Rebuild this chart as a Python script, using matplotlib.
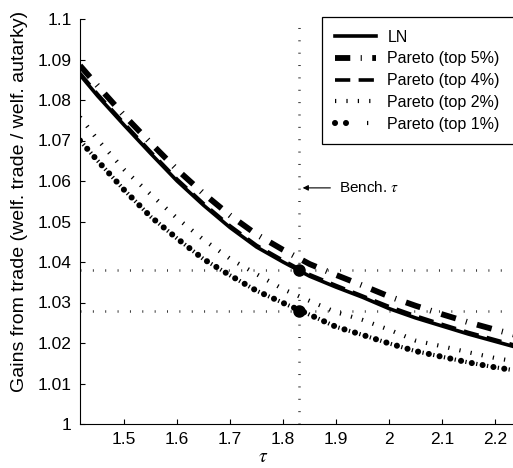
"""
Gains from trade vs tau, LN and Pareto variants
"""
import matplotlib
matplotlib.use('Agg')
import matplotlib.pyplot as plt
from matplotlib.legend_handler import HandlerTuple
from matplotlib.ticker import FormatStrFormatter

plt.rcParams['font.family'] = ['Liberation Sans', 'DejaVu Sans']
plt.rcParams['mathtext.fontset'] = 'stix'
plt.rcParams['lines.scale_dashes'] = False

# values
tau = [1.4167, 1.45, 1.5, 1.55, 1.6, 1.65, 1.7, 1.75, 1.8, 1.85,
       1.9, 1.95, 2.0, 2.05, 2.1, 2.15, 2.2, 2.25]
gains_ln = [1.0862, 1.0810, 1.0738, 1.0668, 1.0600, 1.0540, 1.0485, 1.0437, 1.0400, 1.0365,
            1.0338, 1.0313, 1.0285, 1.0262, 1.0242, 1.0222, 1.0204, 1.0186]
gains_top5 = [1.0885, 1.0835, 1.0762, 1.0694, 1.0628, 1.0569, 1.0515, 1.0468, 1.0430, 1.0395,
              1.0368, 1.0342, 1.0315, 1.0292, 1.0271, 1.0251, 1.0233, 1.0216]
gains_top4 = [1.0866, 1.0814, 1.0742, 1.0672, 1.0604, 1.0544, 1.0489, 1.0441, 1.0404, 1.0369,
              1.0342, 1.0316, 1.0290, 1.0267, 1.0246, 1.0226, 1.0208, 1.0190]
gains_top2 = [1.0758, 1.0702, 1.0628, 1.0567, 1.0508, 1.0455, 1.0408, 1.0370, 1.0333, 1.0304,
              1.0276, 1.0257, 1.0233, 1.0206, 1.0192, 1.0177, 1.0163, 1.0152]
gains_top1 = [1.0700, 1.0650, 1.0578, 1.0512, 1.0458, 1.0407, 1.0367, 1.0329, 1.0299, 1.0270,
              1.0240, 1.0220, 1.0199, 1.0180, 1.0166, 1.0152, 1.0140, 1.0130]

bench_tau = 1.83
bench_gains = [1.038, 1.028]

x_ticks = [1.5, 1.6, 1.7, 1.8, 1.9, 2.0, 2.1, 2.2]
y_ticks = [1.0, 1.01, 1.02, 1.03, 1.04, 1.05, 1.06, 1.07, 1.08, 1.09, 1.1]

fig = plt.figure(figsize=(5.13, 4.68), dpi=100)
ax = fig.add_axes([80 / 513, 44 / 468, 433 / 513, 405 / 468])

# benchmark reference lines
ref_style = dict(color='#333333', lw=1.8, linestyle=(0, (0.7, 8.2)))
ax.axvline(bench_tau, **ref_style)
for g in bench_gains:
    ax.axhline(g, **ref_style)

ln_line, = ax.plot(tau, gains_ln, color='black', lw=2.6)
p5_line, = ax.plot(tau, gains_top5, color='black', lw=4.2,
                   linestyle=(0, (11, 7.5, 0.8, 7.5)))
p4_line, = ax.plot(tau, gains_top4, color='black', lw=2.6,
                   linestyle=(0, (11, 6)))
p2_line, = ax.plot(tau, gains_top2, color='black', lw=3.0,
                   linestyle=(0, (0.9, 7.3)))
p1_dots, = ax.plot(tau, gains_top1, color='black', lw=4.4,
                   linestyle=(0, (0.01, 7.9)), dash_capstyle='round')
p1_ticks, = ax.plot(tau, gains_top1, color='black', lw=3.0,
                    linestyle=(4.3, (0.9, 7.0)))

ax.plot([bench_tau] * len(bench_gains), bench_gains, 'o', color='black', ms=8, zorder=5)

ax.annotate(r'Bench. $\tau$', xy=(1.837, 1.0583), xytext=(1.905, 1.0583),
            fontsize=11, va='center', ha='left',
            arrowprops=dict(arrowstyle='-|>', color='black', lw=0.8,
                            mutation_scale=8, shrinkA=4, shrinkB=0))

ax.set_xlim(1.4167, 2.234)
ax.set_ylim(1.0, 1.1)
ax.set_xticks(x_ticks)
ax.set_yticks(y_ticks)
ax.xaxis.set_major_formatter(FormatStrFormatter('%g'))
ax.yaxis.set_major_formatter(FormatStrFormatter('%g'))
ax.tick_params(axis='both', direction='in', length=3.5, width=0.8, labelsize=12.5, pad=6)

ax.spines['top'].set_visible(False)
ax.spines['right'].set_visible(False)
ax.spines['left'].set_linewidth(0.8)
ax.spines['bottom'].set_linewidth(0.8)

ax.set_ylabel('Gains from trade (welf. trade / welf. autarky)', fontsize=14)
ax.yaxis.set_label_coords(-0.12, 0.55)
ax.set_xlabel(r'$\tau$', fontsize=14)
ax.xaxis.set_label_coords(0.423, -0.062)

leg = fig.legend([ln_line, p5_line, p4_line, p2_line, (p1_dots, p1_ticks)],
                 ['LN', 'Pareto (top 5%)', 'Pareto (top 4%)', 'Pareto (top 2%)', 'Pareto (top 1%)'],
                 handler_map={tuple: HandlerTuple(ndivide=None)},
                 loc='upper left', bbox_to_anchor=(322 / 513, 451 / 468, 220 / 513, 0),
                 mode='expand', borderaxespad=0, fontsize=11.5, handlelength=2.6,
                 handletextpad=0.7, labelspacing=0.42, borderpad=0.8, fancybox=False,
                 framealpha=1, edgecolor='black')
leg.get_frame().set_linewidth(0.9)

fig.savefig('out.png', dpi=100, facecolor='white')
plt.close(fig)
